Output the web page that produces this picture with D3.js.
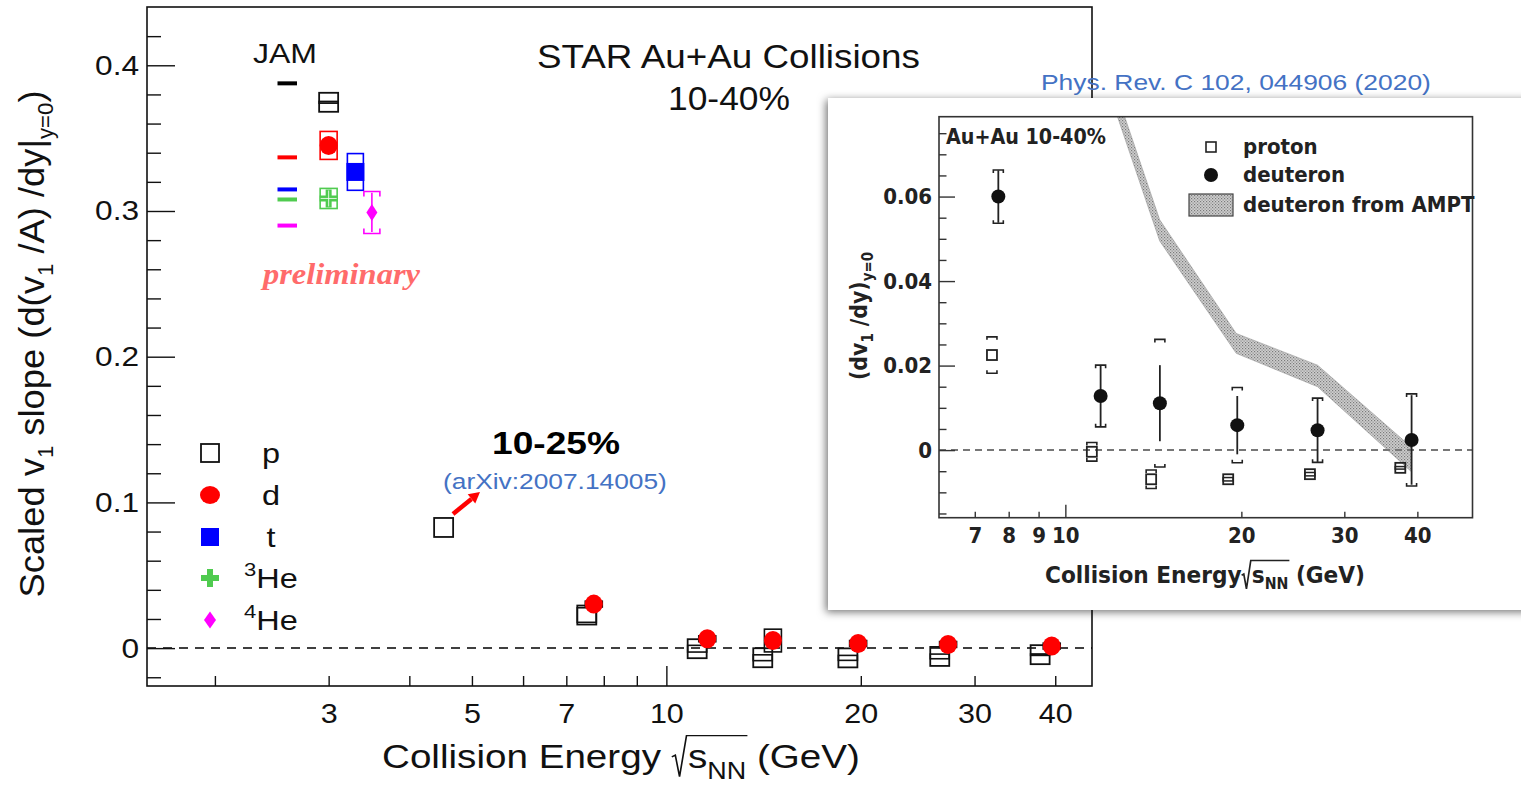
<!DOCTYPE html>
<html><head><meta charset="utf-8">
<script src="https://cdn.jsdelivr.net/npm/d3@7"></script>
<style>body{margin:0;background:#fff} svg{display:block}</style>
</head><body>
<svg id="c" width="1521" height="789"></svg>
<script>
// ================= DATA (main panel) =================
const xTickLabels = [3, 5, 7, 10, 20, 30, 40];
const xMinorTicks = [2, 3, 4, 5, 6, 7, 8, 9, 20, 30, 40];
const xMajorTicks = [10];
const yMajorTicks = [0, 0.1, 0.2, 0.3, 0.4];
const yMinorTicks = [-0.02, 0.02, 0.04, 0.06, 0.08, 0.12, 0.14, 0.16, 0.18, 0.22, 0.24, 0.26, 0.28, 0.32, 0.34, 0.36, 0.38, 0.42];

const protonE   = [3.0, 4.52, 7.53, 11.16, 14.1, 19.1, 26.5, 37.9];
const protonV   = [0.3746, 0.0828, 0.0227, -0.0004, -0.0066, -0.0067, -0.0057, -0.0045];
const protonSys = [0.0006, 0, 0.005, 0.0023, 0.002, 0.0017, 0.0016, 0.0005];

const deuteronE   = [3.0, 7.72, 11.57, 14.62, 19.81, 27.3, 39.5];
const deuteronV   = [0.345, 0.0302, 0.0064, 0.0052, 0.0032, 0.0025, 0.0014];
const deuteronSys = [0.0096, 0.002, 0.002, 0.0078, 0.002, 0.002, 0.002];

const tritonE = [3.3],  tritonV = [0.3268], tritonSys = [0.0126];
const he3E    = [3.0],  he3V    = [0.3086], he3Sys    = [0.0069];
const he4E    = [3.5],  he4V    = [0.299],  he4Stat   = [0.0135], he4Sys = [0.0144];

const jamSpecies = ['p', 'd', 't', '3He', '4He'];
const jamV       = [0.3876, 0.3368, 0.3148, 0.3079, 0.290];
const jamELow = 2.50, jamEHigh = 2.68;

const legendLabels = ['p', 'd', 't', '3He', '4He'];

// ================= DATA (inset, PRC 102 044906) =================
const insXTickLabels = [7, 8, 9, 10, 20, 30, 40];
const insXMinor = [7, 8, 9, 20, 30, 40];
const insXMajor = [10];
const insYMajor = [0, 0.02, 0.04, 0.06];
const insYMinor = [-0.015, -0.01, -0.005, 0.005, 0.01, 0.015, 0.025, 0.03, 0.035, 0.045, 0.05, 0.055, 0.065, 0.07, 0.075];

const insProtonE   = [7.49, 11.1, 14.02, 18.99, 26.2, 37.4];
const insProtonV   = [0.0225, -0.0004, -0.0069, -0.0069, -0.0057, -0.0042];
const insProtonSys = [0.0043, 0.0022, 0.0022, 0.0004, 0.0004, 0.0003];

const insDeutE    = [7.68, 11.49, 14.51, 19.68, 27.0, 39.1];
const insDeutV    = [0.060, 0.0128, 0.0111, 0.0059, 0.0047, 0.0024];
const insDeutStat = [0.0062, 0.0071, 0.0090, 0.0069, 0.0075, 0.0106];
const insDeutSys  = [0.0063, 0.0073, 0.0151, 0.0089, 0.0076, 0.0109];

const amptE  = [11.5, 14.5, 19.6, 27.0, 39.0];
const amptHi = [0.0955, 0.0545, 0.0276, 0.0201, 0.0008];
const amptLo = [0.0905, 0.0495, 0.0229, 0.0150, -0.0050];

// ================= RENDER =================
const svg = d3.select('#c');
const F  = "'Liberation Sans', Arial, Helvetica, sans-serif";
const FN = "'Liberation Sans Narrow', 'Arial Narrow', 'DejaVu Sans Condensed', sans-serif";
const colors = {p:'#000', d:'#ff0000', t:'#0000ff', '3He':'#4fcb4f', '4He':'#ff00ff'};
const SX = 1.13; // horizontal glyph stretch of main-panel text

svg.append('rect').attr('width',1521).attr('height',789).attr('fill','#fff');

const defs = svg.append('defs');
const pat = defs.append('pattern').attr('id','dots').attr('width',3).attr('height',3).attr('patternUnits','userSpaceOnUse');
pat.append('rect').attr('width',3).attr('height',3).attr('fill','#cfcfcf');
pat.append('rect').attr('width',1.2).attr('height',1.2).attr('fill','#7a7a7a');
pat.append('rect').attr('x',1.5).attr('y',1.5).attr('width',1.2).attr('height',1.2).attr('fill','#8a8a8a');
const flt = defs.append('filter').attr('id','shadow').attr('x','-10%').attr('y','-10%').attr('width','130%').attr('height','130%');
flt.append('feDropShadow').attr('dx',-2).attr('dy',2).attr('stdDeviation',4).attr('flood-color','#000').attr('flood-opacity',0.55);

// sequential rich text helper; base.len => stretch to total length, base.sx => stretch factor
function seq(parent, x, y, pieces, anchor, base) {
  const g = parent.append('g');
  let cx = 0;
  const rads = [];
  const items = [];
  pieces.forEach(p => {
    const size = p.size || base.size;
    if (p.radical) {
      rads.push({x0: cx, size, span: p.span, startIdx: items.length});
      cx += size * 0.42;
      items.push({radical:true});
      return;
    }
    const t = g.append('text').attr('x', cx).attr('y', p.dy || 0)
      .attr('font-size', size).attr('font-family', base.family)
      .attr('font-weight', p.weight || base.weight || 'normal')
      .attr('font-style', base.style || 'normal')
      .attr('fill', base.fill || '#000')
      .style('white-space','pre')
      .text(p.t);
    const w = t.node().getComputedTextLength();
    items.push({x: cx, w});
    cx += w + (p.gap || 0);
  });
  rads.forEach(r => {
    const s = r.size;
    let end = r.x0 + s * 0.42;
    for (let k = r.startIdx + 1; k <= r.startIdx + r.span && k < items.length; k++) end = items[k].x + items[k].w;
    const pts = [[r.x0, -0.34*s], [r.x0 + 0.09*s, -0.39*s], [r.x0 + 0.2*s, 0.26*s], [r.x0 + 0.38*s, -0.98*s], [end + 1, -0.98*s]];
    g.append('path').attr('d', d3.line()(pts)).attr('fill','none')
      .attr('stroke', base.fill || '#000').attr('stroke-width', base.rw || 1.4);
  });
  const sx = base.len ? base.len / cx : (base.sx || 1);
  const W = cx * sx;
  const off = anchor === 'middle' ? -W/2 : anchor === 'end' ? -W : 0;
  g.attr('transform', `translate(${x + off},${y}) scale(${sx},1)`);
  return g;
}

function bracket(g, cx, yT, yB, hw, tick, color, sw) {
  const d = `M${cx-hw},${yT+tick}V${yT}H${cx+hw}V${yT+tick}M${cx-hw},${yB-tick}V${yB}H${cx+hw}V${yB-tick}`;
  g.append('path').attr('d', d).attr('fill','none').attr('stroke',color).attr('stroke-width',sw);
}
function crossPath(cx, cy, s) {
  const a = s/2, b = s/6;
  return `M${cx-b},${cy-a}H${cx+b}V${cy-b}H${cx+a}V${cy+b}H${cx+b}V${cy+a}H${cx-b}V${cy+b}H${cx-a}V${cy-b}H${cx-b}Z`;
}
function diamondPath(cx, cy, w, h) {
  return `M${cx},${cy-h/2}L${cx+w/2},${cy}L${cx},${cy+h/2}L${cx-w/2},${cy}Z`;
}

// ---------- main panel ----------
const X0 = 147, X1 = 1092, Y0 = 7, Y1 = 686;
const x = d3.scaleLog().domain([1.57, 45.6]).range([X0, X1]);
const y = d3.scaleLinear().domain([-0.026, 0.44]).range([Y1, Y0]);
const main = svg.append('g');

main.append('rect').attr('x',X0).attr('y',Y0).attr('width',X1-X0).attr('height',Y1-Y0)
  .attr('fill','none').attr('stroke','#111').attr('stroke-width',1.6);

main.append('line').attr('x1',X0).attr('x2',X1).attr('y1',y(0)).attr('y2',y(0))
  .attr('stroke','#000').attr('stroke-width',1.5).attr('stroke-dasharray','9,7');

function styleAxis(sel, sw) {
  sel.select('.domain').remove();
  sel.selectAll('line').attr('stroke','#111').attr('stroke-width', sw);
}
main.append('g').attr('transform',`translate(0,${Y1})`)
  .call(d3.axisTop(x).tickValues(xMinorTicks).tickSize(10).tickFormat(''))
  .call(s => styleAxis(s, 1.4));
main.append('g').attr('transform',`translate(0,${Y1})`)
  .call(d3.axisTop(x).tickValues(xMajorTicks).tickSize(20).tickFormat(''))
  .call(s => styleAxis(s, 1.4));
const xl = main.append('g').attr('transform',`translate(0,${Y1})`)
  .call(d3.axisBottom(x).tickValues(xTickLabels).tickSize(0).tickPadding(18).tickFormat(d => String(d)));
xl.select('.domain').remove();
xl.selectAll('text').attr('font-size',27).attr('font-family',F).attr('fill','#111').attr('transform',`scale(${SX},1)`);

main.append('g').attr('transform',`translate(${X0},0)`)
  .call(d3.axisRight(y).tickValues(yMinorTicks).tickSize(14).tickFormat(''))
  .call(s => styleAxis(s, 1.4));
main.append('g').attr('transform',`translate(${X0},0)`)
  .call(d3.axisRight(y).tickValues(yMajorTicks).tickSize(28).tickFormat(''))
  .call(s => styleAxis(s, 1.4));
const yl = main.append('g').attr('transform',`translate(${X0},0)`)
  .call(d3.axisLeft(y).tickValues(yMajorTicks).tickSize(0).tickPadding(7).tickFormat(d => d === 0 ? '0' : d3.format('.1f')(d)));
yl.select('.domain').remove();
yl.selectAll('text').attr('font-size',28).attr('font-family',F).attr('fill','#111').attr('transform',`scale(${SX},1)`);

// axis titles
seq(main, 621, 768, [
  {t:'Collision Energy '}, {radical:true, span:2}, {t:'s'}, {t:'NN', size:23, dy:11}, {t:' (GeV)'}
], 'middle', {size:33, family:F, fill:'#111', len:478});

const yt = main.append('g').attr('transform','translate(44,344) rotate(-90)');
seq(yt, 0, 0, [
  {t:'Scaled v'}, {t:'1', size:22, dy:9}, {t:' slope (d(v'}, {t:'1', size:22, dy:9},
  {t:' /A) /dy|'}, {t:'y=0', size:22, dy:9}, {t:')'}
], 'middle', {size:36, family:F, fill:'#111', len:507});

// titles
seq(main, 537, 68, [{t:'STAR Au+Au Collisions'}], 'start', {size:33, family:F, fill:'#111', len:383});
seq(main, 729, 110, [{t:'10-40%'}], 'middle', {size:33, family:F, fill:'#111', len:122});

// JAM
seq(main, 253, 63, [{t:'JAM'}], 'start', {size:28, family:F, fill:'#111', len:64});
jamSpecies.forEach((s, i) => {
  main.append('line').attr('x1', x(jamELow)).attr('x2', x(jamEHigh)).attr('y1', y(jamV[i])).attr('y2', y(jamV[i]))
    .attr('stroke', colors[s]).attr('stroke-width', 4);
});

seq(main, 263, 284, [{t:'preliminary'}], 'start', {size:29, weight:'bold', style:'italic',
  family:"'Liberation Serif', 'Times New Roman', serif", fill:'#ff6b6b', len:157});

// proton
const MS = 19;
protonE.forEach((e, i) => {
  const cx = x(e), cy = y(protonV[i]);
  if (protonSys[i] > 0) {
    main.append('rect').attr('x', cx - MS/2).attr('width', MS)
      .attr('y', y(protonV[i] + protonSys[i])).attr('height', Math.max(0.5, y(protonV[i] - protonSys[i]) - y(protonV[i] + protonSys[i])))
      .attr('fill','none').attr('stroke','#111').attr('stroke-width',1.6);
  }
  main.append('rect').attr('x', cx - MS/2).attr('y', cy - MS/2).attr('width', MS).attr('height', MS)
    .attr('fill','none').attr('stroke','#111').attr('stroke-width',1.8);
});

// deuteron
deuteronE.forEach((e, i) => {
  const cx = x(e);
  const col = e < 5 ? colors.d : '#111';
  main.append('rect').attr('x', cx - 8.5).attr('width', 17)
    .attr('y', y(deuteronV[i] + deuteronSys[i])).attr('height', y(deuteronV[i] - deuteronSys[i]) - y(deuteronV[i] + deuteronSys[i]))
    .attr('fill','none').attr('stroke', col).attr('stroke-width',1.6);
});
deuteronE.forEach((e, i) => {
  main.append('ellipse').attr('cx', x(e)).attr('cy', y(deuteronV[i])).attr('rx', 9).attr('ry', 9.5).attr('fill', colors.d);
});

// triton
tritonE.forEach((e, i) => {
  const cx = x(e), cy = y(tritonV[i]);
  main.append('rect').attr('x', cx - 8).attr('width', 16)
    .attr('y', y(tritonV[i] + tritonSys[i])).attr('height', y(tritonV[i] - tritonSys[i]) - y(tritonV[i] + tritonSys[i]))
    .attr('fill','none').attr('stroke', colors.t).attr('stroke-width',1.6);
  main.append('rect').attr('x', cx - 9).attr('y', cy - 9).attr('width', 18).attr('height', 18).attr('fill', colors.t);
});

// 3He
he3E.forEach((e, i) => {
  const cx = x(e), cy = y(he3V[i]);
  main.append('path').attr('d', crossPath(cx, cy, 18)).attr('fill', colors['3He']);
  main.append('rect').attr('x', cx - 8.5).attr('width', 17)
    .attr('y', y(he3V[i] + he3Sys[i])).attr('height', y(he3V[i] - he3Sys[i]) - y(he3V[i] + he3Sys[i]))
    .attr('fill','none').attr('stroke', colors['3He']).attr('stroke-width',1.6);
  main.append('line').attr('x1', cx-8).attr('x2', cx+8).attr('y1', cy).attr('y2', cy).attr('stroke','#fff').attr('stroke-width',0.8);
  main.append('line').attr('x1', cx).attr('x2', cx).attr('y1', cy-8).attr('y2', cy+8).attr('stroke','#fff').attr('stroke-width',0.8);
});

// 4He
he4E.forEach((e, i) => {
  const cx = x(e), cy = y(he4V[i]);
  bracket(main, cx, y(he4V[i] + he4Sys[i]), y(he4V[i] - he4Sys[i]), 8, 5, colors['4He'], 1.6);
  main.append('line').attr('x1', cx).attr('x2', cx).attr('y1', y(he4V[i] + he4Stat[i])).attr('y2', y(he4V[i] - he4Stat[i]))
    .attr('stroke', colors['4He']).attr('stroke-width', 1.6);
  main.append('path').attr('d', diamondPath(cx, cy, 11, 17)).attr('fill', colors['4He']);
});

// legend
const legY = [453, 495, 537, 578, 620];
const LX = 210;
main.append('rect').attr('x', LX-9).attr('y', legY[0]-9).attr('width',18).attr('height',18).attr('fill','none').attr('stroke','#111').attr('stroke-width',1.8);
main.append('ellipse').attr('cx', LX).attr('cy', legY[1]).attr('rx',10).attr('ry',9).attr('fill',colors.d);
main.append('rect').attr('x', LX-9).attr('y', legY[2]-9).attr('width',18).attr('height',18).attr('fill',colors.t);
main.append('path').attr('d', crossPath(LX, legY[3], 18)).attr('fill', colors['3He']);
main.append('path').attr('d', diamondPath(LX, legY[4], 12, 17)).attr('fill', colors['4He']);
legendLabels.forEach((l, i) => {
  const pieces = l.length > 1 ? [{t:l[0], size:19, dy:-12}, {t:l.slice(1)}] : [{t:l}];
  seq(main, 271, legY[i] + 10, pieces, 'middle', {size:28, family:F, fill:'#111', sx:1.16});
});

// 10-25% annotation
seq(main, 556, 454, [{t:'10-25%'}], 'middle', {size:31, weight:'bold', family:F, fill:'#000', len:128});
seq(main, 555, 489, [{t:'(arXiv:2007.14005)'}], 'middle', {size:22, family:F, fill:'#4472c4', len:224});
{
  const ax0 = 453, ay0 = 514, ax1 = 480, ay1 = 492;
  const ang = Math.atan2(ay1 - ay0, ax1 - ax0);
  const hl = 11, hw = 6;
  const bx = ax1 - hl*Math.cos(ang), by = ay1 - hl*Math.sin(ang);
  main.append('line').attr('x1',ax0).attr('y1',ay0).attr('x2',bx).attr('y2',by).attr('stroke','#f00').attr('stroke-width',4.5);
  const px = -Math.sin(ang)*hw, py = Math.cos(ang)*hw;
  main.append('path').attr('d',`M${ax1},${ay1}L${bx+px},${by+py}L${bx-px},${by-py}Z`).attr('fill','#f00');
}

seq(main, 1041, 90, [{t:'Phys. Rev. C 102, 044906 (2020)'}], 'start', {size:22, family:F, fill:'#4472c4', len:390});

// ---------- inset ----------
const ins = svg.append('g');
ins.append('rect').attr('x',828).attr('y',98).attr('width',720).attr('height',512).attr('fill','#fff').attr('filter','url(#shadow)');

const IX0 = 939, IX1 = 1472.5, IY0 = 116.7, IY1 = 517.7;
const xi = d3.scaleLog().domain([6.08, 49.7]).range([IX0, IX1]);
const yi = d3.scaleLinear().domain([-0.016, 0.0789]).range([IY1, IY0]);

defs.append('clipPath').attr('id','insclip').append('rect').attr('x',IX0).attr('y',IY0).attr('width',IX1-IX0).attr('height',IY1-IY0);

const area = d3.area().x((d,i) => xi(amptE[i])).y0((d,i) => yi(amptLo[i])).y1((d,i) => yi(amptHi[i]));
ins.append('path').datum(amptE).attr('d', area).attr('fill','url(#dots)').attr('stroke','#999').attr('stroke-width',0.6).attr('clip-path','url(#insclip)');

ins.append('line').attr('x1',IX0).attr('x2',IX1).attr('y1',yi(0)).attr('y2',yi(0))
  .attr('stroke','#777').attr('stroke-width',2).attr('stroke-dasharray','7,5');

ins.append('rect').attr('x',IX0).attr('y',IY0).attr('width',IX1-IX0).attr('height',IY1-IY0)
  .attr('fill','none').attr('stroke','#333').attr('stroke-width',1.6);

function styleI(sel) { sel.select('.domain').remove(); sel.selectAll('line').attr('stroke','#333').attr('stroke-width',1.4); }
ins.append('g').attr('transform',`translate(0,${IY1})`).call(d3.axisTop(xi).tickValues(insXMinor).tickSize(6).tickFormat('')).call(styleI);
ins.append('g').attr('transform',`translate(0,${IY1})`).call(d3.axisTop(xi).tickValues(insXMajor).tickSize(13).tickFormat('')).call(styleI);
ins.append('g').attr('transform',`translate(${IX0},0)`).call(d3.axisRight(yi).tickValues(insYMinor).tickSize(7.5).tickFormat('')).call(styleI);
ins.append('g').attr('transform',`translate(${IX0},0)`).call(d3.axisRight(yi).tickValues(insYMajor).tickSize(16).tickFormat('')).call(styleI);

const ixl = ins.append('g').attr('transform',`translate(0,${IY1})`)
  .call(d3.axisBottom(xi).tickValues(insXTickLabels).tickSize(0).tickPadding(10).tickFormat(d => String(d)));
ixl.select('.domain').remove();
ixl.selectAll('text').attr('font-size',22).attr('font-weight','bold').attr('font-family',FN).attr('fill','#222');
const iyl = ins.append('g').attr('transform',`translate(${IX0},0)`)
  .call(d3.axisLeft(yi).tickValues(insYMajor).tickSize(0).tickPadding(7).tickFormat(d => d === 0 ? '0' : d3.format('.2f')(d)));
iyl.select('.domain').remove();
iyl.selectAll('text').attr('font-size',22).attr('font-weight','bold').attr('font-family',FN).attr('fill','#222');

seq(ins, 1205, 583, [
  {t:'Collision Energy'}, {radical:true, span:2}, {t:'s'}, {t:'NN', size:15, dy:6}, {t:' (GeV)'}
], 'middle', {size:23, family:FN, weight:'bold', fill:'#222', rw:1.6, len:320});
const iyt = ins.append('g').attr('transform','translate(867,316) rotate(-90)');
seq(iyt, 0, 0, [
  {t:'(dv'}, {t:'1', size:15, dy:6}, {t:' /dy)'}, {t:'y=0', size:15, dy:6}
], 'middle', {size:23, family:FN, weight:'bold', fill:'#222', len:128});

seq(ins, 946, 144, [{t:'Au+Au 10-40%'}], 'start', {size:21, weight:'bold', family:FN, fill:'#222', len:160});

ins.append('rect').attr('x',1206).attr('y',142).attr('width',10).attr('height',10).attr('fill','none').attr('stroke','#222').attr('stroke-width',1.6);
ins.append('circle').attr('cx',1211).attr('cy',175).attr('r',7).attr('fill','#111');
ins.append('rect').attr('x',1189).attr('y',194).attr('width',44).attr('height',22).attr('fill','url(#dots)').attr('stroke','#444').attr('stroke-width',1.2);
[['proton',154],['deuteron',182],['deuteron from AMPT',212]].forEach(([t, yy]) => {
  ins.append('text').attr('x',1243).attr('y',yy).attr('font-size',22).attr('font-weight','bold').attr('font-family',FN).attr('fill','#222').text(t);
});

insProtonE.forEach((e, i) => {
  const cx = xi(e), cy = yi(insProtonV[i]);
  const yT = yi(insProtonV[i] + insProtonSys[i]), yB = yi(insProtonV[i] - insProtonSys[i]);
  if (yB - yT > 12) bracket(ins, cx, yT, yB, 5, 3, '#222', 1.6);
  else ins.append('rect').attr('x', cx-5).attr('width',10).attr('y', yT).attr('height', Math.max(0.5, yB-yT)).attr('fill','none').attr('stroke','#222').attr('stroke-width',1.5);
  ins.append('rect').attr('x', cx-5).attr('y', cy-5).attr('width',10).attr('height',10).attr('fill','none').attr('stroke','#222').attr('stroke-width',1.8);
});
insDeutE.forEach((e, i) => {
  const cx = xi(e), cy = yi(insDeutV[i]);
  bracket(ins, cx, yi(insDeutV[i] + insDeutSys[i]), yi(insDeutV[i] - insDeutSys[i]), 5, 3, '#222', 1.6);
  ins.append('line').attr('x1',cx).attr('x2',cx).attr('y1', yi(insDeutV[i] + insDeutStat[i])).attr('y2', yi(insDeutV[i] - insDeutStat[i]))
    .attr('stroke','#222').attr('stroke-width',1.8);
  ins.append('circle').attr('cx',cx).attr('cy',cy).attr('r',7).attr('fill','#111');
});
</script>
</body></html>
